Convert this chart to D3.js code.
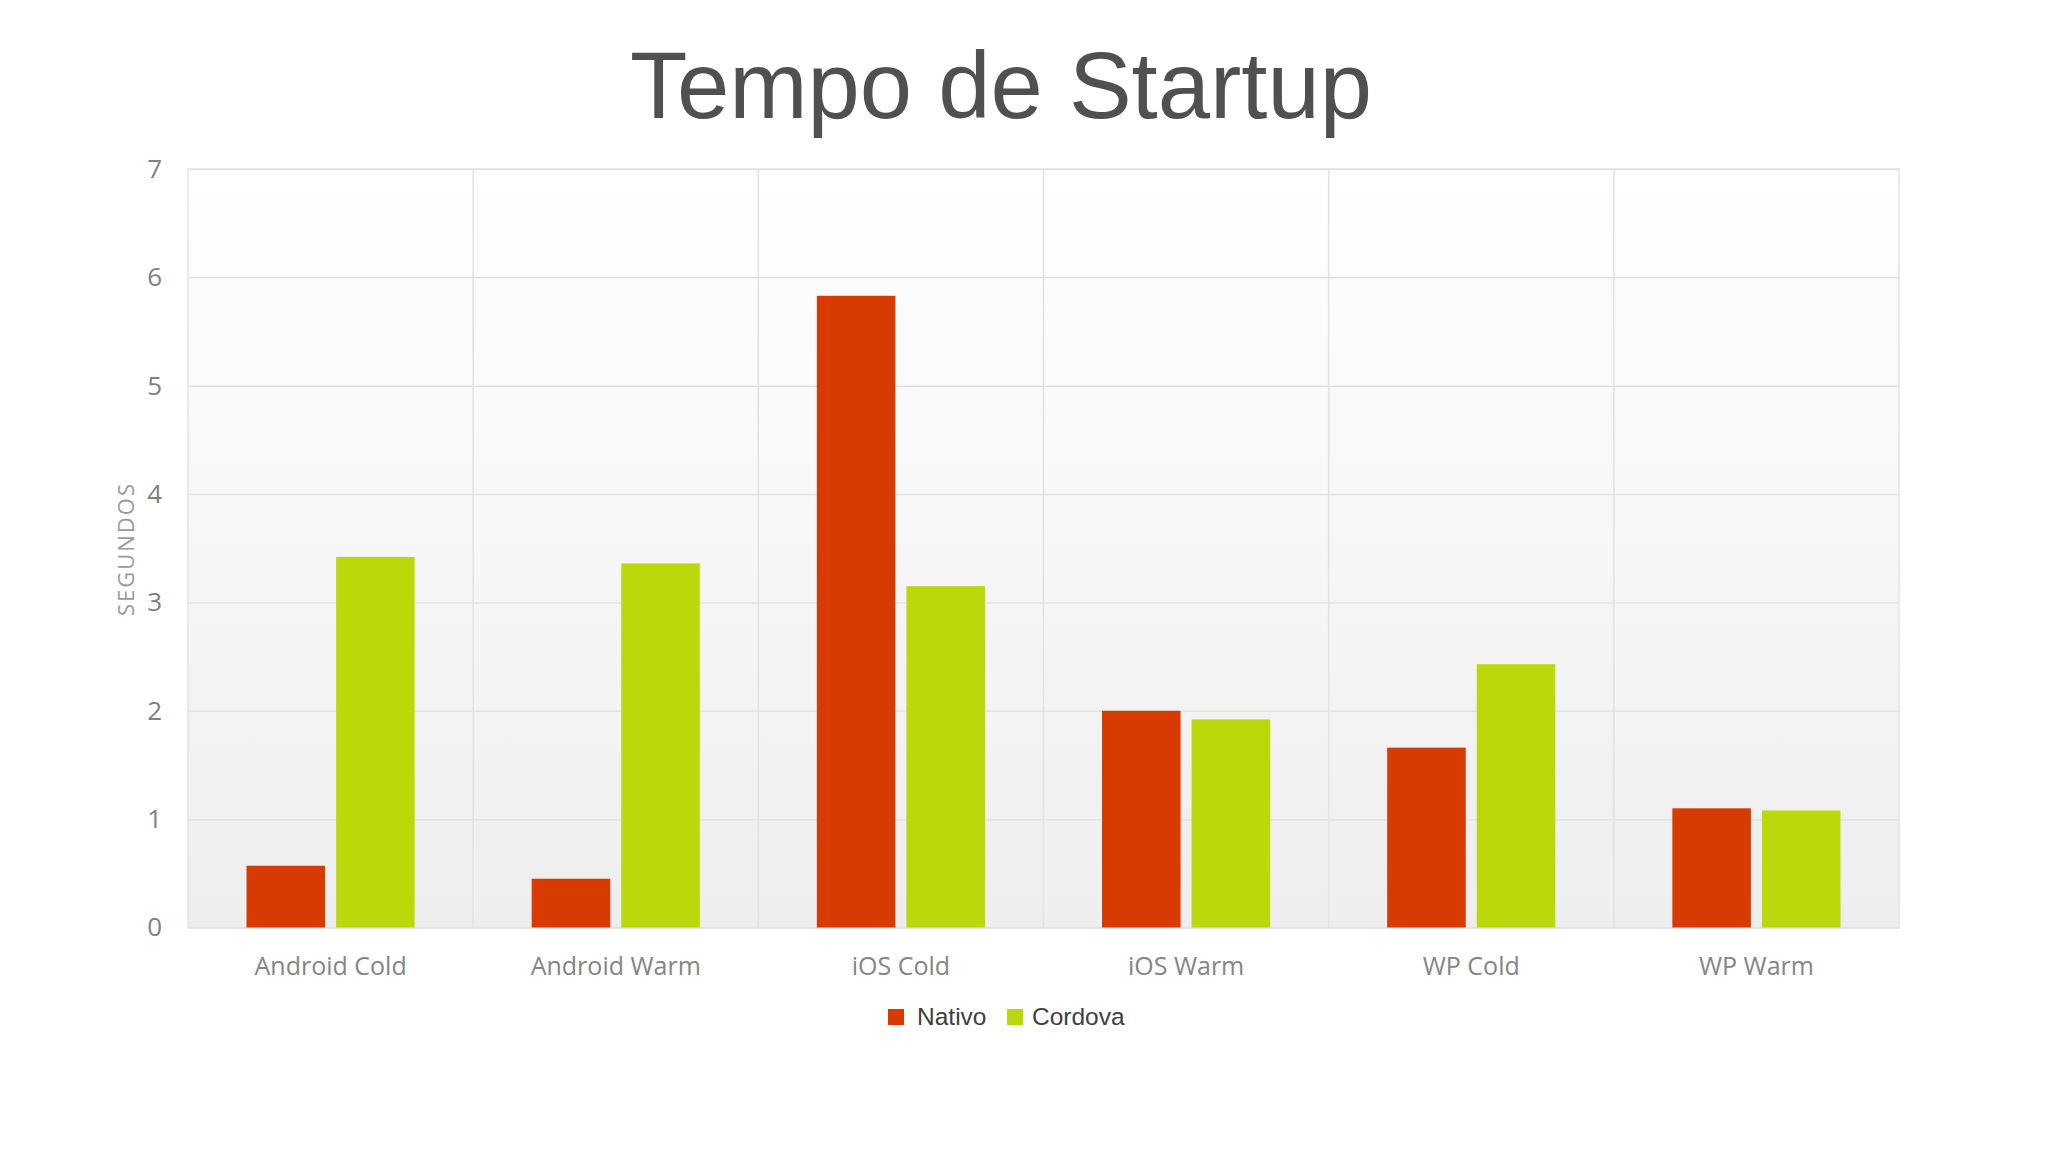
<!DOCTYPE html>
<html>
<head>
<meta charset="utf-8">
<script src="https://cdn.jsdelivr.net/npm/d3@7"></script>
<style>
  html, body { margin: 0; padding: 0; background: #ffffff; }
  svg { display: block; }
</style>
</head>
<body>
<svg id="chart" width="2048" height="1152"></svg>
<script>
const categories = ["Android Cold", "Android Warm", "iOS Cold", "iOS Warm", "WP Cold", "WP Warm"];
const seriesNames = ["Nativo", "Cordova"];
const nativoValues = [0.57, 0.45, 5.83, 2.00, 1.66, 1.10];
const cordovaValues = [3.42, 3.36, 3.15, 1.92, 2.43, 1.08];
const yTicks = [0, 1, 2, 3, 4, 5, 6, 7];
const seriesColors = ["#d83b01", "#bad80a"];

const svg = d3.select("#chart");
const m = { left: 188, right: 2048 - 1899, top: 169, bottom: 1152 - 927.5 };
const W = 2048 - m.left - m.right;
const H = 1152 - m.top - m.bottom;

const defs = svg.append("defs");
const grad = defs.append("linearGradient").attr("id", "bg").attr("x1", 0).attr("y1", 0).attr("x2", 0).attr("y2", 1);
grad.append("stop").attr("offset", "0%").attr("stop-color", "#ffffff");
grad.append("stop").attr("offset", "100%").attr("stop-color", "#eeeeef");

// Title
svg.append("text")
  .attr("x", 1001).attr("y", 118)
  .attr("text-anchor", "middle")
  .attr("font-family", "'Liberation Sans', Arial, sans-serif")
  .attr("font-size", 94)
  .attr("fill", "#505050")
  .text("Tempo de Startup");

const g = svg.append("g").attr("transform", `translate(${m.left},${m.top})`);

const x = d3.scaleBand().domain(categories).range([0, W]).paddingInner(0).paddingOuter(0);
const y = d3.scaleLinear().domain([0, 7]).range([H, 0]);
const x1 = d3.scaleBand().domain(seriesNames)
  .range([x.bandwidth() * 0.2052, x.bandwidth() * 0.7948])
  .paddingInner(0.123).paddingOuter(0);

// background
g.append("rect").attr("x", 0).attr("y", 0).attr("width", W).attr("height", H)
  .attr("fill", "url(#bg)").attr("stroke", "#e4e4e4").attr("stroke-width", 1.5);

// horizontal grid
g.append("g")
  .call(d3.axisLeft(y).tickValues(yTicks).tickSize(-W).tickFormat(""))
  .call(s => s.select(".domain").remove())
  .call(s => s.selectAll("line").attr("stroke", "#e2e2e2").attr("stroke-width", 1.5));

// vertical grid at band boundaries
const bounds = categories.slice(1).map(c => x(c));
g.append("g").selectAll("line").data(bounds).join("line")
  .attr("x1", d => d).attr("x2", d => d).attr("y1", 0).attr("y2", H)
  .attr("stroke", "#e2e2e2").attr("stroke-width", 1.5);

// y axis labels
g.append("g")
  .call(d3.axisLeft(y).tickValues(yTicks).tickSize(0).tickPadding(26).tickFormat(d3.format("d")))
  .call(s => s.select(".domain").remove())
  .call(s => s.selectAll("text")
    .attr("font-family", "'Open Sans', sans-serif")
    .attr("font-size", 26)
    .attr("fill", "#808080"));

// x axis labels
g.append("g").attr("transform", `translate(0,${H})`)
  .call(d3.axisBottom(x).tickSize(0).tickPadding(30))
  .call(s => s.select(".domain").remove())
  .call(s => s.selectAll("text")
    .attr("font-family", "'Open Sans', sans-serif")
    .attr("font-size", 25)
    .attr("fill", "#858585"));

// bars
const rows = categories.map((c, i) => ({ cat: c, vals: [nativoValues[i], cordovaValues[i]] }));
const grp = g.append("g").selectAll("g").data(rows).join("g")
  .attr("transform", d => `translate(${x(d.cat)},0)`);
grp.selectAll("rect")
  .data(d => d.vals.map((v, k) => ({ name: seriesNames[k], v, k })))
  .join("rect")
  .attr("x", d => x1(d.name))
  .attr("width", x1.bandwidth())
  .attr("y", d => y(d.v))
  .attr("height", d => y(0) - y(d.v))
  .attr("fill", d => seriesColors[d.k]);

// y axis title
svg.append("text")
  .attr("transform", "translate(134,549) rotate(-90)")
  .attr("text-anchor", "middle")
  .attr("font-family", "'Open Sans', sans-serif")
  .attr("font-size", 22)
  .attr("letter-spacing", 2)
  .attr("fill", "#9a9a9a")
  .text("SEGUNDOS");

// legend
const legendX = [888, 1007];
const legendTextX = [917, 1032];
const lg = svg.append("g").selectAll("g").data(seriesNames).join("g");
lg.append("rect").attr("x", (d, i) => legendX[i]).attr("y", 1009)
  .attr("width", 16).attr("height", 16).attr("fill", (d, i) => seriesColors[i]);
lg.append("text").attr("x", (d, i) => legendTextX[i]).attr("y", 1024.5)
  .attr("font-family", "'Liberation Sans', Arial, sans-serif")
  .attr("font-size", 24.5)
  .attr("fill", "#404040")
  .text(d => d);
</script>
</body>
</html>
